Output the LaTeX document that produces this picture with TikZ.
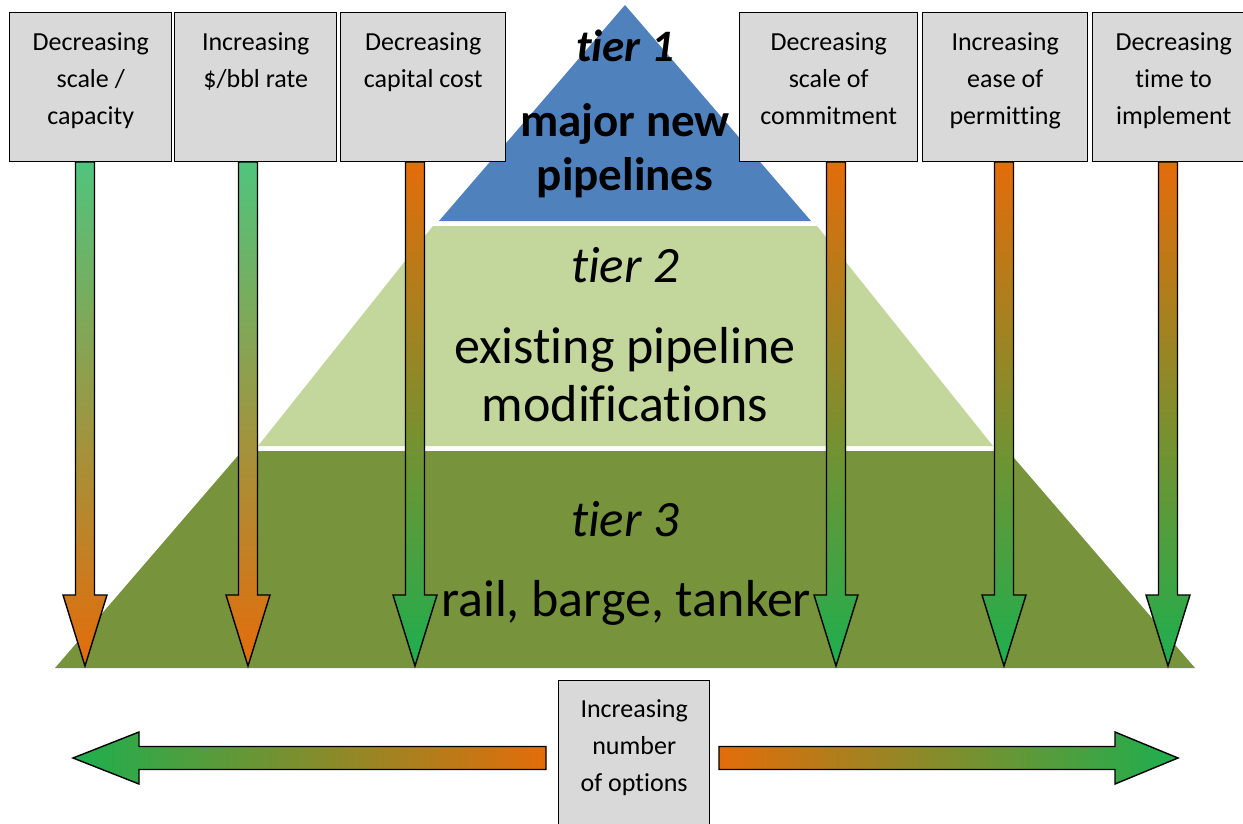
\documentclass[tikz,border=0pt]{standalone}
\usepackage{fontspec}
\setmainfont{Carlito}[Ligatures={NoCommon,NoContextual}]
\usetikzlibrary{calc}
\definecolor{boxgray}{HTML}{D9D9D9}
\definecolor{tierone}{HTML}{4F81BD}
\definecolor{tiertwo}{HTML}{C3D69B}
\definecolor{tierthree}{HTML}{77933C}
\definecolor{org}{HTML}{E46C0A}
\definecolor{grnlight}{HTML}{50C47D}
\definecolor{grn}{HTML}{1DAF4F}
\newcommand\downarr[3]{\shadedraw[blockarrow, top color=#2, bottom color=#3]
  (#1-9.5,162) -- (#1+9.5,162) -- (#1+9.5,595) -- (#1+22,595) -- (#1,666) -- (#1-22,595) -- (#1-9.5,595) -- cycle;}
\begin{document}
\begin{tikzpicture}[x=1pt,y=-1pt,
  box/.style={draw=black, fill=boxgray, line width=1.4pt, inner sep=0pt, anchor=north west},
  boxtext/.style={font=\fontsize{26}{37}\selectfont, align=center, anchor=north, inner sep=0pt},
  tiertext/.style={font=\fontsize{52}{58}\selectfont, align=center, anchor=base, inner sep=0pt},
  blockarrow/.style={draw=black, line width=1.4pt, line join=miter}]
\clip (0,0) rectangle (1243,824);
\fill[white] (0,0) rectangle (1243,824);
% pyramid
\fill[tierone] (625,5) -- (811,221) -- (439,221) -- cycle;
\fill[tiertwo] (433,226) -- (817,226) -- (993,446) -- (258,446) -- cycle;
\fill[tierthree] (242,451) -- (1008,451) -- (1195,668) -- (55,668) -- cycle;
% pyramid texts
\node[tiertext, font=\fontsize{45}{54}\selectfont\bfseries\itshape] (t1) at (625,62) {tier 1};
\node[tiertext, font=\fontsize{47}{54}\selectfont\bfseries] (t1a) at (625,137) {major new};
\node[tiertext, font=\fontsize{47}{54}\selectfont\bfseries] (t1b) at (625,190) {pipelines};
\node[tiertext, font=\fontsize{51}{58}\selectfont\itshape] (t2) at (625,282) {tier 2};
\node[tiertext] (t2a) at (625,363) {existing pipeline};
\node[tiertext] (t2b) at (625,421) {modifications};
\node[tiertext, font=\fontsize{51}{58}\selectfont\itshape] (t3) at (625,536) {tier 3};
\node[tiertext] (t3a) at (626,616) {rail, barge, tanker};
% vertical arrows
\downarr{85}{grnlight}{org}
\downarr{248}{grnlight}{org}
\downarr{415}{org}{grn}
\downarr{836}{org}{grn}
\downarr{1004}{org}{grn}
\downarr{1168}{org}{grn}
% top boxes
\node[box, minimum width=162, minimum height=149] (b1) at (9,12) {};
\node[box, minimum width=162, minimum height=149] (b2) at (174,12) {};
\node[box, minimum width=165, minimum height=149] (b3) at (340,12) {};
\node[box, minimum width=178, minimum height=149] (b4) at (739,12) {};
\node[box, minimum width=165, minimum height=149] (b5) at (922,12) {};
\node[box, minimum width=162, minimum height=149] (b6) at (1092,12) {};
\node[boxtext] at ($(b1.north)+(0,20)$) {Decreasing\\scale /\\capacity};
\node[boxtext] at ($(b2.north)+(0,20)$) {Increasing\\\$/bbl rate};
\node[boxtext] at ($(b3.north)+(0,20)$) {Decreasing\\capital cost};
\node[boxtext] at ($(b4.north)+(0,20)$) {Decreasing\\scale of\\commitment};
\node[boxtext] at ($(b5.north)+(0,20)$) {Increasing\\ease of\\permitting};
\node[boxtext] at ($(b6.north)+(0,20)$) {Decreasing\\time to\\implement};
% bottom box
\node[box, minimum width=151, minimum height=160] (b7) at (558,680) {};
\node[boxtext] at ($(b7.north)+(0,19)$) {Increasing\\number\\of options};
% horizontal arrows
\shadedraw[blockarrow, left color=grn, right color=org]
  (546,746.5) -- (139,746.5) -- (139,732) -- (73,758) -- (139,784) -- (139,769.5) -- (546,769.5) -- cycle;
\shadedraw[blockarrow, left color=org, right color=grn]
  (719,746.5) -- (1115,746.5) -- (1115,732) -- (1178,758) -- (1115,784) -- (1115,769.5) -- (719,769.5) -- cycle;
\end{tikzpicture}
\end{document}
